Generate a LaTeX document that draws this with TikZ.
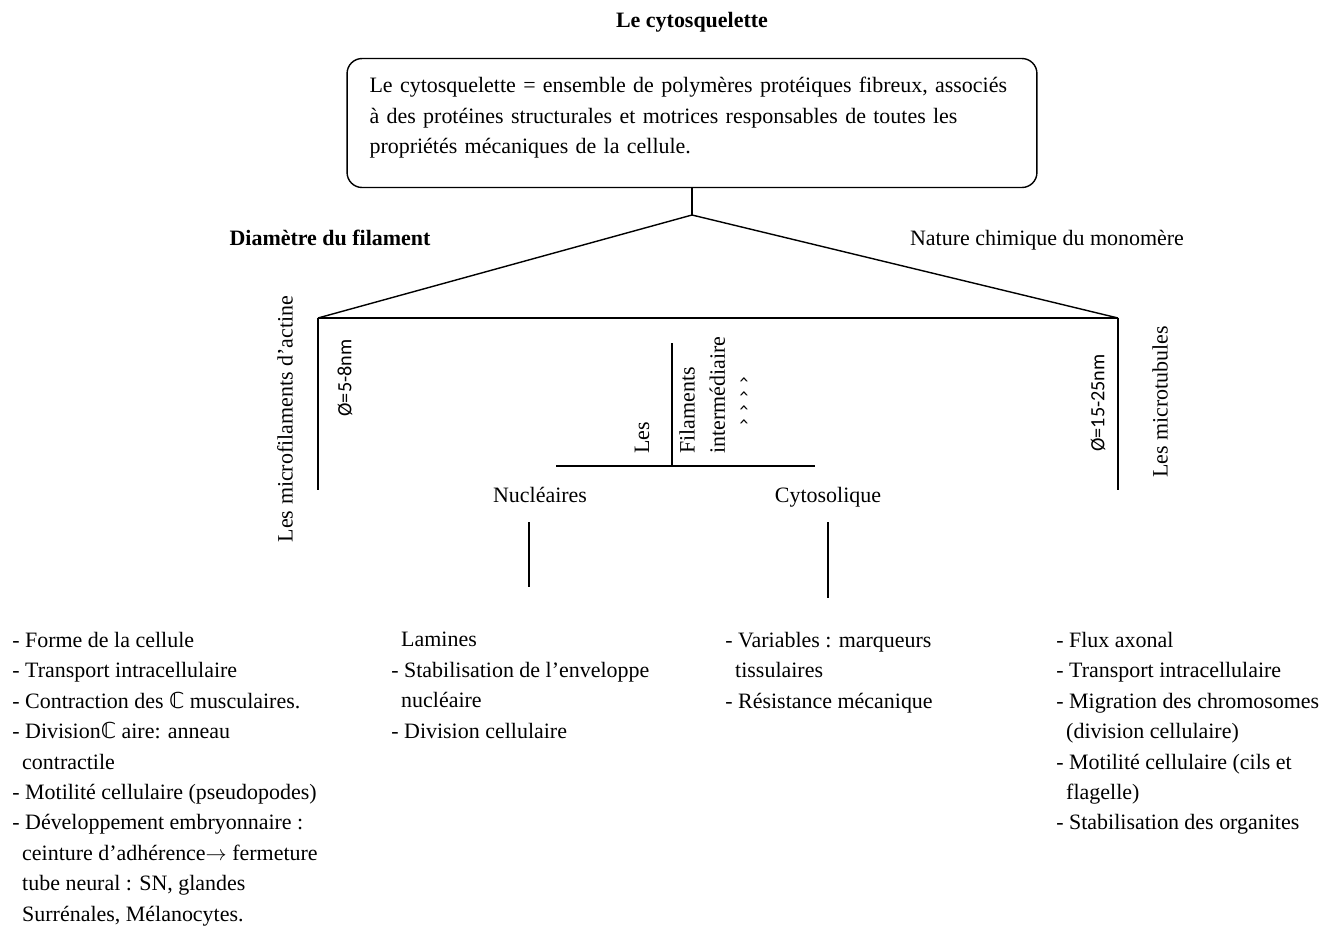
\documentclass[tikz,border=0pt]{standalone}
\usepackage{fontspec}
\setmainfont{Liberation Serif}
\newfontfamily\calib{Carlito}
\newfontfamily\symb{DejaVu Sans}
\usetikzlibrary{positioning}
\newcommand{\corps}{\fontsize{12.5}{17.3}\selectfont}
\newcommand{\retrait}{\hspace*{0.45em}}
\newcommand{\cel}{{\symb ℂ}}

\begin{document}
\begin{tikzpicture}[x=0.02cm, y=-0.02cm,
    txt/.style={inner sep=0pt, font=\corps},
    ligne/.style={txt, anchor=base},
    liste/.style={txt, align=left, anchor=north west},
    vert/.style={txt, rotate=90},
    boite/.style={draw, line width=0.8pt, rounded corners=0.3cm, font=\corps,
        minimum width=13.8cm, minimum height=2.58cm, inner xsep=0.44cm,
        text width=12.9cm, align=left},
    trait/.style={line width=0.8pt}]
    \useasboundingbox (0,0) rectangle (1343,927);

    \node[ligne, font=\corps\bfseries] (titre) at (692,27) {Le cytosquelette};
    \node[boite] (def) at (692,123) {Le cytosquelette = ensemble de polymères protéiques fibreux, associés\\
        à des protéines structurales et motrices responsables de toutes les\\
        propriétés mécaniques de la cellule.\rule[-0.3cm]{0pt}{0pt}};

    % branches
    \coordinate (split) at (692,215);
    \coordinate (actL) at (318,318);
    \coordinate (mtR) at (1118,318);
    \coordinate (actEnd) at (318,490);
    \coordinate (mtEnd) at (1118,490);
    \node[ligne, font=\corps\bfseries] (diam) at (330,245) {Diamètre du filament};
    \node[ligne] (nat) at (1047,245) {Nature chimique du monomère};

    \node[vert] (actine) at (285,419) {Les microfilaments d’actine};
    \node[vert, font=\calib\fontsize{11.5}{13}\selectfont] (phiA) at (345,378) {Ø=5-8nm};
    \node[vert, font=\calib\fontsize{11.5}{13}\selectfont] (phiM) at (1098,403) {Ø=15-25nm};
    \node[vert] (mt) at (1160,402) {Les microtubules};

    % filaments intermediaires
    \coordinate (ifTop) at (672,343);
    \coordinate (ifFoot) at (672,466);
    \coordinate (ifL) at (556,466);
    \coordinate (ifR) at (815,466);
    \node[vert, anchor=west] (les) at (642,454) {Les};
    \node[vert, anchor=north west, align=left] (fil) at (679,454) {Filaments\\intermédiaire};
    \node[vert, font=\symb\fontsize{10}{11}\selectfont] (fsym) at (745,401) {›\hspace{0.4em}›\hspace{0.4em}›\hspace{0.4em}›};

    \node[ligne] (nuc) at (540,502) {Nucléaires};
    \node[ligne] (cyt) at (828,502) {Cytosolique};
    \coordinate (nucTop) at (529,522);
    \coordinate (nucEnd) at (529,587);
    \coordinate (cytTop) at (828,522);
    \coordinate (cytEnd) at (828,598);

    \draw[trait] (def.south) -- (split);
    \draw[trait] (split) -- (actL);
    \draw[trait] (split) -- (mtR);
    \draw[trait] (actL) -- (mtR);
    \draw[trait] (actL) -- (actEnd);
    \draw[trait] (mtR) -- (mtEnd);
    \draw[trait] (ifTop) -- (ifFoot);
    \draw[trait] (ifL) -- (ifR);
    \draw[trait] (nucTop) -- (nucEnd);
    \draw[trait] (cytTop) -- (cytEnd);

    % fonctions
    \node[liste] (lstA) at (12,632) {- Forme de la cellule\\
        - Transport intracellulaire\\
        - Contraction des \cel{} musculaires.\\
        - Division\cel{} aire: anneau\\
        \retrait contractile\\
        - Motilité cellulaire (pseudopodes)\\
        - Développement embryonnaire :\\
        \retrait ceinture d’adhérence$\rightarrow$ fermeture\\
        \retrait tube neural : SN, glandes\\
        \retrait Surrénales, Mélanocytes.};
    \node[liste] (lstN) at (391,632) {\retrait Lamines\\
        - Stabilisation de l’enveloppe\\
        \retrait nucléaire\\
        - Division cellulaire};
    \node[liste] (lstC) at (725,632) {- Variables : marqueurs\\
        \retrait tissulaires\\
        - Résistance mécanique};
    \node[liste] (lstM) at (1056,632) {- Flux axonal\\
        - Transport intracellulaire\\
        - Migration des chromosomes\\
        \retrait (division cellulaire)\\
        - Motilité cellulaire (cils et\\
        \retrait flagelle)\\
        - Stabilisation des organites};
\end{tikzpicture}
\end{document}
